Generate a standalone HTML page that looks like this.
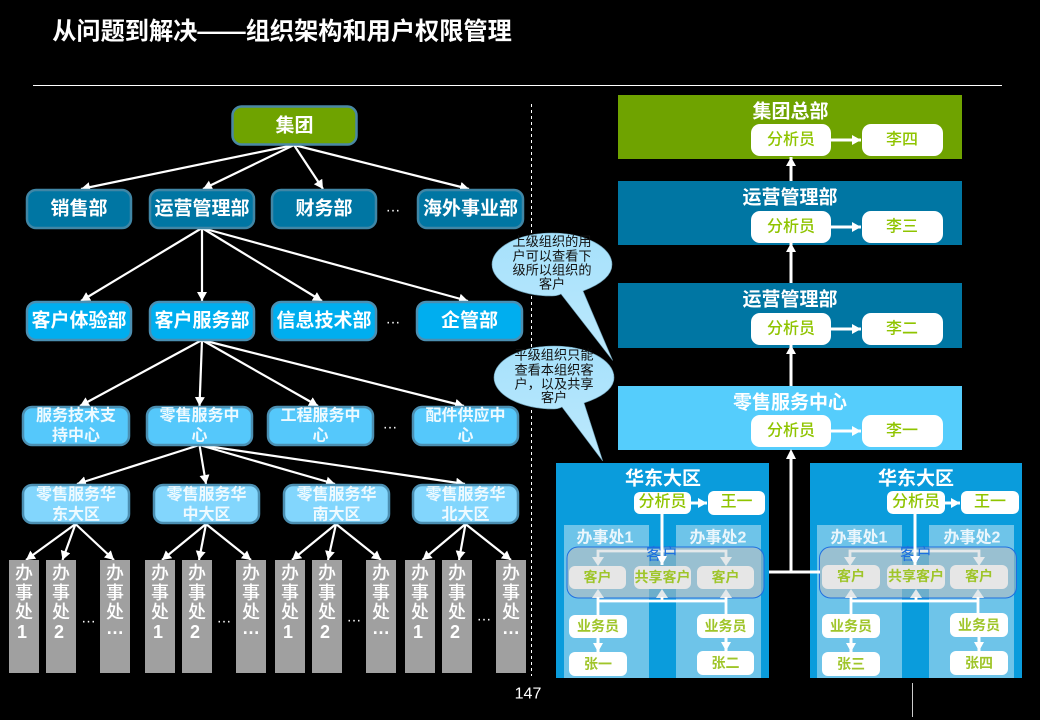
<!DOCTYPE html>
<html lang="zh">
<head>
<meta charset="utf-8">
<title>从问题到解决——组织架构和用户权限管理</title>
<style>
html,body{margin:0;padding:0;background:#000;width:1040px;height:720px;overflow:hidden}
svg{display:block}
text{font-family:"Liberation Sans","Noto Sans CJK SC",sans-serif;text-anchor:middle;dominant-baseline:central}
.t{font-size:19px;font-weight:700;fill:#fff;transform:translateY(1px)}
.s{font-size:16px;font-weight:700;fill:#eefaff;transform:translateY(1px)}
.v{font-size:18px;font-weight:500;fill:#fff}
.n{font-size:18px;font-weight:700;fill:#fff}
.h{font-size:19px;font-weight:700;fill:#fff;transform:translateY(1px)}
.g{font-size:16px;font-weight:500;fill:#8fc400}
.m{font-size:16px;font-weight:500;fill:#8fc400}
.c{font-size:14px;font-weight:700;fill:#9fc52a}
.o{font-size:16px;font-weight:700;fill:#eaf6fc}
.b{font-size:13.2px;fill:#111}
.d{font-size:15px;fill:#fff}
.a line{stroke:#fff;stroke-width:2.2;marker-end:url(#ah)}
.k line{stroke:#fff;stroke-width:3;marker-end:url(#ak)}
.w{stroke:#fff;stroke-width:2.800;fill:none}
.l{stroke:#e4e8ea;stroke-width:2.800;fill:none}
</style>
</head>
<body>
<svg width="1040" height="720" viewBox="0 0 1040 720" xmlns="http://www.w3.org/2000/svg">
<defs>
<marker id="ah" markerUnits="userSpaceOnUse" markerWidth="11" markerHeight="11" refX="9" refY="5" orient="auto"><path d="M0,0 L9,5 L0,10 Z" fill="#fff"/></marker>
<marker id="ak" markerUnits="userSpaceOnUse" markerWidth="11" markerHeight="11" refX="9" refY="5" orient="auto"><path d="M0,0 L9,5 L0,10 Z" fill="#fff"/></marker>
<linearGradient id="bub" x1="0" y1="0" x2="0" y2="1"><stop offset="0" stop-color="#a6e1fb"/><stop offset="1" stop-color="#bde9fd"/></linearGradient>
</defs>
<rect width="1040" height="720" fill="#000"/>

<text x="282" y="32" style="font-size:24.2px;font-weight:700;fill:#fff">从问题到解决——组织架构和用户权限管理</text>
<line x1="33" y1="85.5" x2="1002" y2="85.5" stroke="#fff" stroke-width="1"/>
<line x1="531.5" y1="104" x2="531.5" y2="676" stroke="#fff" stroke-width="1" stroke-dasharray="3 3"/>

<!-- left tree connectors -->
<g class="a">
<line x1="294" y1="145" x2="81" y2="189"/><line x1="294" y1="145" x2="203" y2="189"/><line x1="294" y1="145" x2="323" y2="189"/><line x1="294" y1="145" x2="469" y2="189"/>
<line x1="202" y1="228" x2="81" y2="301"/><line x1="202" y1="228" x2="202" y2="301"/><line x1="202" y1="228" x2="322" y2="301"/><line x1="202" y1="228" x2="468" y2="301"/>
<line x1="202" y1="340" x2="80" y2="406"/><line x1="202" y1="340" x2="199.500" y2="406"/><line x1="202" y1="340" x2="318" y2="406"/><line x1="202" y1="340" x2="464" y2="406"/>
<line x1="199.500" y1="445" x2="77" y2="484"/><line x1="199.500" y1="445" x2="206" y2="484"/><line x1="199.500" y1="445" x2="335" y2="484"/><line x1="199.500" y1="445" x2="465" y2="484"/>
<line x1="75.500" y1="524" x2="26" y2="560"/><line x1="75.500" y1="524" x2="62.500" y2="560"/><line x1="75.500" y1="524" x2="114" y2="560"/>
<line x1="206" y1="524" x2="162" y2="560"/><line x1="206" y1="524" x2="199" y2="560"/><line x1="206" y1="524" x2="251" y2="560"/>
<line x1="336" y1="524" x2="292" y2="560"/><line x1="336" y1="524" x2="328" y2="560"/><line x1="336" y1="524" x2="381" y2="560"/>
<line x1="465.500" y1="524" x2="422.500" y2="560"/><line x1="465.500" y1="524" x2="459" y2="560"/><line x1="465.500" y1="524" x2="511" y2="560"/>
</g>

<!-- left tree nodes -->
<g stroke-width="2.500">
<rect x="232.500" y="106.500" width="124" height="38" rx="9" fill="#6fa300" stroke="#4a88a4"/>
<g fill="#0076a3" stroke="#3f86a6">
<rect x="27" y="190" width="104" height="38" rx="9"/><rect x="150" y="190" width="104" height="38" rx="9"/><rect x="272" y="190" width="104" height="38" rx="9"/><rect x="418" y="190" width="105" height="38" rx="9"/>
</g>
<g fill="#00aeef" stroke="#4b8fb2">
<rect x="27" y="302" width="104" height="38" rx="9"/><rect x="150" y="302" width="104" height="38" rx="9"/><rect x="272" y="302" width="104" height="38" rx="9"/><rect x="417" y="302" width="105" height="38" rx="9"/>
</g>
<g fill="#55c8fb" stroke="#4b8fb2">
<rect x="23" y="407" width="106" height="38" rx="9"/><rect x="147" y="407" width="105" height="38" rx="9"/><rect x="268" y="407" width="105" height="38" rx="9"/><rect x="413" y="407" width="105" height="38" rx="9"/>
</g>
<g fill="#82d6fd" stroke="#4b8fb2">
<rect x="23" y="485" width="106" height="38" rx="9"/><rect x="154" y="485" width="105" height="38" rx="9"/><rect x="284" y="485" width="105" height="38" rx="9"/><rect x="413" y="485" width="105" height="38" rx="9"/>
</g>
</g>

<text class="t" x="294.500" y="125">集团</text>
<text class="t" x="79" y="208">销售部</text><text class="t" x="202" y="208">运营管理部</text><text class="t" x="324" y="208">财务部</text><text class="t" x="470.500" y="208">海外事业部</text>
<text class="t" x="79" y="320">客户体验部</text><text class="t" x="202" y="320">客户服务部</text><text class="t" x="324" y="320">信息技术部</text><text class="t" x="469.500" y="320">企管部</text>

<text class="s" x="76" y="415">服务技术支</text><text class="s" x="76" y="435">持中心</text>
<text class="s" x="199.500" y="415">零售服务中</text><text class="s" x="199.500" y="435">心</text>
<text class="s" x="320.500" y="415">工程服务中</text><text class="s" x="320.500" y="435">心</text>
<text class="s" x="465.500" y="415">配件供应中</text><text class="s" x="465.500" y="435">心</text>

<text class="s" x="76" y="494">零售服务华</text><text class="s" x="76" y="514">东大区</text>
<text class="s" x="206.500" y="494">零售服务华</text><text class="s" x="206.500" y="514">中大区</text>
<text class="s" x="336.500" y="494">零售服务华</text><text class="s" x="336.500" y="514">南大区</text>
<text class="s" x="465.500" y="494">零售服务华</text><text class="s" x="465.500" y="514">北大区</text>

<text class="d" x="393" y="207">…</text><text class="d" x="393" y="319">…</text><text class="d" x="390" y="424">…</text>

<!-- offices -->
<g fill="#a0a0a0">
<rect x="9" y="560" width="30" height="113"/><rect x="46" y="560" width="30" height="113"/><rect x="100" y="560" width="30" height="113"/>
<rect x="145" y="560" width="30" height="113"/><rect x="182" y="560" width="30" height="113"/><rect x="236" y="560" width="30" height="113"/>
<rect x="275" y="560" width="30" height="113"/><rect x="312" y="560" width="30" height="113"/><rect x="366" y="560" width="30" height="113"/>
<rect x="405" y="560" width="30" height="113"/><rect x="442" y="560" width="30" height="113"/><rect x="496" y="560" width="30" height="113"/>
</g>
<text class="v" x="24" y="573">办</text><text class="v" x="24" y="593">事</text><text class="v" x="24" y="612">处</text><text class="n" x="22" y="632">1</text>
<text class="v" x="61" y="573">办</text><text class="v" x="61" y="593">事</text><text class="v" x="61" y="612">处</text><text class="n" x="59" y="632">2</text>
<text class="v" x="115" y="573">办</text><text class="v" x="115" y="593">事</text><text class="v" x="115" y="612">处</text><text class="n" x="115" y="628">…</text>
<text class="v" x="160" y="573">办</text><text class="v" x="160" y="593">事</text><text class="v" x="160" y="612">处</text><text class="n" x="158" y="632">1</text>
<text class="v" x="197" y="573">办</text><text class="v" x="197" y="593">事</text><text class="v" x="197" y="612">处</text><text class="n" x="195" y="632">2</text>
<text class="v" x="251" y="573">办</text><text class="v" x="251" y="593">事</text><text class="v" x="251" y="612">处</text><text class="n" x="251" y="628">…</text>
<text class="v" x="290" y="573">办</text><text class="v" x="290" y="593">事</text><text class="v" x="290" y="612">处</text><text class="n" x="288" y="632">1</text>
<text class="v" x="327" y="573">办</text><text class="v" x="327" y="593">事</text><text class="v" x="327" y="612">处</text><text class="n" x="325" y="632">2</text>
<text class="v" x="381" y="573">办</text><text class="v" x="381" y="593">事</text><text class="v" x="381" y="612">处</text><text class="n" x="381" y="628">…</text>
<text class="v" x="420" y="573">办</text><text class="v" x="420" y="593">事</text><text class="v" x="420" y="612">处</text><text class="n" x="418" y="632">1</text>
<text class="v" x="457" y="573">办</text><text class="v" x="457" y="593">事</text><text class="v" x="457" y="612">处</text><text class="n" x="455" y="632">2</text>
<text class="v" x="511" y="573">办</text><text class="v" x="511" y="593">事</text><text class="v" x="511" y="612">处</text><text class="n" x="511" y="628">…</text>
<text class="d" x="88.500" y="618">…</text><text class="d" x="224" y="618">…</text><text class="d" x="354" y="617">…</text><text class="d" x="484" y="616">…</text>

<!-- right stack -->
<rect x="618" y="95" width="344" height="64" fill="#6fa300"/>
<rect x="618" y="181" width="344" height="64" fill="#0076a3"/>
<rect x="618" y="283" width="344" height="65" fill="#0076a3"/>
<rect x="618" y="386" width="344" height="64" fill="#55cdfc"/>
<text class="h" x="790.500" y="111">集团总部</text>
<text class="h" x="790" y="197">运营管理部</text>
<text class="h" x="790" y="299">运营管理部</text>
<text class="h" x="790" y="402">零售服务中心</text>
<g fill="#fff">
<rect x="751" y="124" width="80" height="32" rx="9"/><rect x="862" y="124" width="81" height="32" rx="9"/>
<rect x="751" y="211" width="80" height="32" rx="9"/><rect x="862" y="211" width="81" height="32" rx="9"/>
<rect x="751" y="313" width="80" height="32" rx="9"/><rect x="862" y="313" width="81" height="32" rx="9"/>
<rect x="751" y="415" width="80" height="32" rx="9"/><rect x="862" y="415" width="81" height="32" rx="9"/>
</g>
<text class="g" x="791" y="140">分析员</text><text class="g" x="902" y="140">李四</text>
<text class="g" x="791" y="227">分析员</text><text class="g" x="902" y="227">李三</text>
<text class="g" x="791" y="329">分析员</text><text class="g" x="902" y="329">李二</text>
<text class="g" x="791" y="431">分析员</text><text class="g" x="902" y="431">李一</text>
<g class="k">
<line x1="831" y1="140" x2="861" y2="140"/><line x1="831" y1="227" x2="861" y2="227"/><line x1="831" y1="329" x2="861" y2="329"/><line x1="831" y1="431" x2="861" y2="431"/>
<line x1="791" y1="181" x2="791" y2="157"/><line x1="791" y1="283" x2="791" y2="243"/><line x1="791" y1="386" x2="791" y2="345"/>
</g>

<!-- lower-left panel -->
<rect x="556" y="463" width="213" height="215" fill="#0a9cdc"/>
<rect x="564" y="525" width="85" height="153" fill="#6ec4e9"/>
<rect x="676" y="525" width="85" height="153" fill="#6ec4e9"/>
<text class="h" x="663" y="478">华东大区</text>
<text class="o" x="605" y="538">办事处1</text><text class="o" x="718" y="538">办事处2</text>
<rect x="567" y="547" width="197" height="51" rx="11" fill="#bdbdbd" fill-opacity=".55" stroke="#1f6fe0" stroke-width="1"/>
<path class="l" d="M598 560V551H726V560"/>
<g fill="#e4e8ea"><path d="M592 557L604 557L598 566Z"/><path d="M720 557L732 557L726 566Z"/><path d="M592 598L604 598L598 589Z"/><path d="M656 598L668 598L662 589Z"/><path d="M720 598L732 598L726 589Z"/></g>
<path class="w" d="M598 597V615M726 597V614M598 601H726M662 601V597"/>
<text x="662" y="555" style="font-size:16px;fill:#1c6fe0">客户</text>
<g fill="#e6e6e6"><rect x="569" y="566" width="57" height="23" rx="6"/><rect x="634" y="566" width="57" height="23" rx="6"/><rect x="697" y="566" width="57" height="23" rx="6"/></g>
<text class="c" x="597.500" y="577">客户</text><text class="c" x="662.500" y="577">共享客户</text><text class="c" x="725.500" y="577">客户</text>
<g fill="#fff">
<rect x="634" y="492" width="57" height="22" rx="6"/><rect x="708" y="491" width="57" height="24" rx="6"/>
<rect x="569" y="615" width="58" height="23" rx="6"/><rect x="697" y="614" width="57" height="24" rx="6"/>
<rect x="569" y="652" width="58" height="24" rx="6"/><rect x="697" y="651" width="57" height="24" rx="6"/>
</g>
<text class="m" x="662.500" y="502">分析员</text><text class="m" x="736.500" y="502">王一</text>
<text class="c" x="598" y="626">业务员</text><text class="c" x="725.500" y="626">业务员</text>
<text class="c" x="598" y="664">张一</text><text class="c" x="725.500" y="663">张二</text>
<g class="k">
<line x1="662" y1="514" x2="662" y2="565"/><line x1="691" y1="503" x2="707" y2="503"/>
<line x1="598" y1="638" x2="598" y2="652"/><line x1="726" y1="638" x2="726" y2="651"/>
</g>

<!-- lower-right panel -->
<rect x="810" y="463" width="212" height="215" fill="#0a9cdc"/>
<rect x="817" y="525" width="85" height="153" fill="#6ec4e9"/>
<rect x="929" y="525" width="85" height="153" fill="#6ec4e9"/>
<text class="h" x="916" y="478">华东大区</text>
<text class="o" x="859" y="538">办事处1</text><text class="o" x="972" y="538">办事处2</text>
<rect x="819.500" y="547" width="197" height="51" rx="11" fill="#bdbdbd" fill-opacity=".55" stroke="#1f6fe0" stroke-width="1"/>
<path class="l" d="M850 560V551H979V560"/>
<g fill="#e4e8ea"><path d="M844 557L856 557L850 566Z"/><path d="M973 557L985 557L979 566Z"/><path d="M845 598L857 598L851 589Z"/><path d="M910 598L922 598L916 589Z"/><path d="M972 598L984 598L978 589Z"/></g>
<path class="w" d="M851 597V614M978 597V613M851 601H978M916 601V597"/>
<text x="916" y="555" style="font-size:16px;fill:#1c6fe0">客户</text>
<g fill="#e6e6e6"><rect x="822" y="565" width="58" height="24" rx="6"/><rect x="887" y="565" width="58" height="24" rx="6"/><rect x="950" y="565" width="58" height="24" rx="6"/></g>
<text class="c" x="851" y="576">客户</text><text class="c" x="916" y="576">共享客户</text><text class="c" x="979" y="576">客户</text>
<g fill="#fff">
<rect x="887" y="491" width="58" height="23" rx="6"/><rect x="961" y="491" width="58" height="23" rx="6"/>
<rect x="822" y="614" width="58" height="24" rx="6"/><rect x="950" y="613" width="58" height="24" rx="6"/>
<rect x="822" y="652" width="58" height="24" rx="6"/><rect x="950" y="651" width="58" height="24" rx="6"/>
</g>
<text class="m" x="916" y="502">分析员</text><text class="m" x="990" y="502">王一</text>
<text class="c" x="851" y="626">业务员</text><text class="c" x="979" y="625">业务员</text>
<text class="c" x="851" y="664">张三</text><text class="c" x="979" y="663">张四</text>
<g class="k">
<line x1="915" y1="514" x2="915" y2="565"/><line x1="945" y1="503" x2="960" y2="503"/>
<line x1="851" y1="638" x2="851" y2="652"/><line x1="979" y1="637" x2="979" y2="651"/>
</g>

<!-- panel connector -->
<path d="M769 572H820M791 572V458" stroke="#fff" stroke-width="3" fill="none"/>
<path d="M786 459L796 459L791 449Z" fill="#fff"/>

<!-- callouts -->
<g fill="url(#bub)" stroke="#6f9fb5" stroke-width=".6">
<path d="M561 294L612.700 360.500L583 291Q612 280 612 264.500C612 247 585 233 552 233C519 233 492 247 492 264.500C492 282 519 296 552 296Q557 296 561 294Z"/>
<path d="M562 407L602.700 461L584 403Q614 393 614 377.500C614 360 587 346 554 346C521 346 494 360 494 377.500C494 395 521 409 554 409Q558 409 562 407Z"/>
</g>
<text class="b" x="552" y="241.500">上级组织的用</text><text class="b" x="552" y="256">户可以查看下</text><text class="b" x="552" y="270">级所以组织的</text><text class="b" x="552" y="284">客户</text>
<text class="b" x="554" y="355">平级组织只能</text><text class="b" x="554" y="370">查看本组织客</text><text class="b" x="554" y="384">户，以及共享</text><text class="b" x="554" y="397.500">客户</text>

<text x="528" y="694" style="font-size:16px;fill:#fff">147</text>
<line x1="912.500" y1="683" x2="912.500" y2="717" stroke="#ccc" stroke-width="1"/>
</svg>
</body>
</html>
